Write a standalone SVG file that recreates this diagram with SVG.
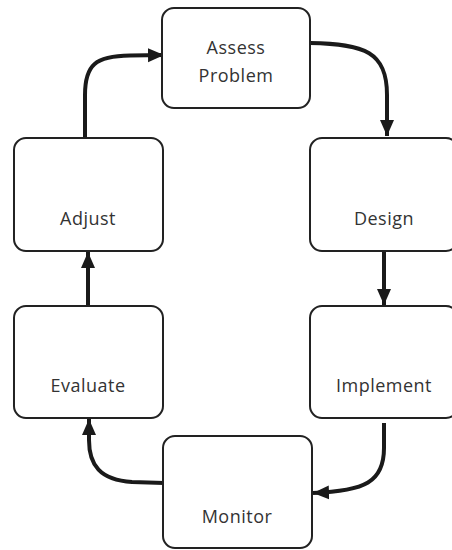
<svg xmlns="http://www.w3.org/2000/svg" width="452" height="550" viewBox="0 0 452 550">
<style>
.box{fill:#fff;stroke:#222;stroke-width:2}
.lbl{font-family:"Open Sans","Liberation Sans",sans-serif;font-size:18px;letter-spacing:0.5px;fill:#333;text-anchor:middle}
.con{fill:none;stroke:#1a1a1a;stroke-width:4;stroke-linecap:butt;marker-end:url(#ah)}
</style>
<defs>
<marker id="ah" markerUnits="userSpaceOnUse" markerWidth="18" markerHeight="16" refX="16" refY="8" orient="auto">
<path d="M0,1 L16,8 L0,15 Z" fill="#1a1a1a"/>
</marker>
</defs>
<rect width="452" height="550" fill="#fff"/>
<g id="connectors">
<path class="con" d="M85,138 L85,95 C85,65 95,56 130,55.5 L164,55"/>
<path class="con" d="M310,43 C365,44 387,52 387,95 L387,136"/>
<path class="con" d="M384,251 L384,305"/>
<path class="con" d="M384,423 L384,448 C384,482 365,491 313,493"/>
<path class="con" d="M164,483 L132,482 C100,480 89,465 89,440 L89,419"/>
<path class="con" d="M88,306 L88,252"/>
</g>
<g id="assess"><rect class="box" x="162" y="8" width="148" height="100" rx="12"/><text class="lbl" x="236" y="54">Assess</text><text class="lbl" x="236" y="82">Problem</text></g>
<g id="design"><rect class="box" x="310" y="138" width="148" height="113" rx="12"/><text class="lbl" x="384" y="225">Design</text></g>
<g id="implement"><rect class="box" x="310" y="306" width="148" height="112" rx="12"/><text class="lbl" x="384" y="392">Implement</text></g>
<g id="monitor"><rect class="box" x="163" y="436" width="149" height="112" rx="12"/><text class="lbl" x="237" y="523">Monitor</text></g>
<g id="evaluate"><rect class="box" x="14" y="306" width="149" height="112" rx="12"/><text class="lbl" x="88" y="392">Evaluate</text></g>
<g id="adjust"><rect class="box" x="14" y="138" width="149" height="113" rx="12"/><text class="lbl" x="88" y="225">Adjust</text></g>
</svg>
